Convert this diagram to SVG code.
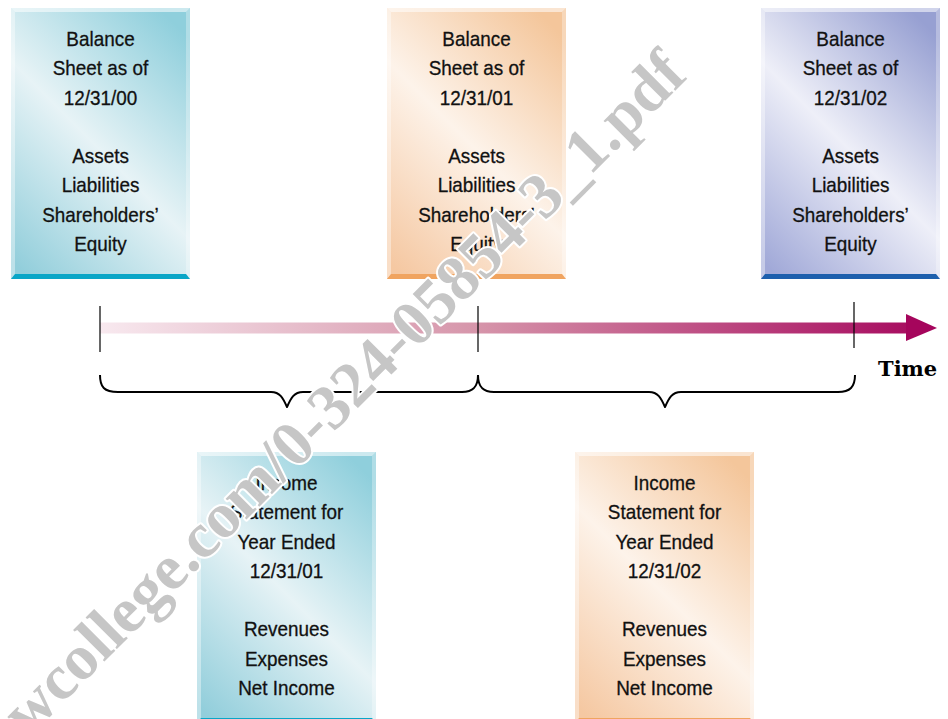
<svg xmlns="http://www.w3.org/2000/svg" width="948" height="719" viewBox="0 0 948 719">
  <defs>
    <!-- face colour ramps: dark at two opposite corners, light diagonal band -->
    <linearGradient id="rampBlue">
      <stop offset="0" stop-color="#8fcfdc"/>
      <stop offset="0.5" stop-color="#e7f3f6"/>
      <stop offset="1" stop-color="#92cedb"/>
    </linearGradient>
    <linearGradient id="rampOrange">
      <stop offset="0" stop-color="#f4c69b"/>
      <stop offset="0.5" stop-color="#fdf3ea"/>
      <stop offset="1" stop-color="#f5c8a2"/>
    </linearGradient>
    <linearGradient id="rampPurple">
      <stop offset="0" stop-color="#97a0d2"/>
      <stop offset="0.5" stop-color="#eeeff8"/>
      <stop offset="1" stop-color="#a1a9d8"/>
    </linearGradient>
    <linearGradient id="faceBs2000" href="#rampBlue" gradientUnits="userSpaceOnUse" x1="200.5" y1="50" x2="0.5" y2="250"/>
    <linearGradient id="faceBs2001" href="#rampOrange" gradientUnits="userSpaceOnUse" x1="576.5" y1="50" x2="376.5" y2="250"/>
    <linearGradient id="faceBs2002" href="#rampPurple" gradientUnits="userSpaceOnUse" x1="950.5" y1="50" x2="750.5" y2="250"/>
    <linearGradient id="faceIs2001" href="#rampBlue" gradientUnits="userSpaceOnUse" x1="386.5" y1="494" x2="186.5" y2="694"/>
    <linearGradient id="faceIs2002" href="#rampOrange" gradientUnits="userSpaceOnUse" x1="764.5" y1="494" x2="564.5" y2="694"/>
    <linearGradient id="timeShaft" gradientUnits="userSpaceOnUse" x1="100" y1="0" x2="937" y2="0">
      <stop offset="0" stop-color="#f8e9ef"/>
      <stop offset="0.45" stop-color="#d695aa"/>
      <stop offset="1" stop-color="#a5055c"/>
    </linearGradient>
    <!-- bevelled frame of a 179 x 271 panel; bottom bar takes currentColor -->
    <g id="bevel">
      <polygon points="0,0 179,0 175,4 4,4" fill="#ffffff" fill-opacity="0.55"/>
      <polygon points="0,0 4,4 4,267 0,271" fill="#ffffff" fill-opacity="0.4"/>
      <polygon points="179,0 179,271 175,267 175,4" fill="#ffffff" fill-opacity="0.3"/>
      <polygon points="0,271 179,271 175,266 4,266" fill="currentColor"/>
    </g>
  </defs>
  <style>
    .lbl { font-family: "Liberation Sans", Arial, sans-serif; font-size: 21px; fill: #111; stroke: #111; stroke-width: 0.3; text-anchor: middle; }
    .tick { stroke: #000; stroke-width: 1.2; fill: none; }
    .brace { stroke: #000; stroke-width: 2; fill: none; stroke-linejoin: round; }
    .time { font-family: "DejaVu Serif", "Liberation Serif", serif; font-weight: bold; font-size: 21px; fill: #000; }
    .mark { font-family: "Liberation Serif", "DejaVu Serif", serif; font-weight: bold; font-size: 64px; fill: #c6c6c6; stroke: #ffffff; stroke-width: 4; paint-order: stroke; stroke-linejoin: round; }
  </style>

  <rect width="948" height="719" fill="#ffffff"/>

  <!-- balance sheets -->
  <g id="bs2000">
    <rect x="11" y="8" width="179" height="271" fill="url(#faceBs2000)"/>
    <use href="#bevel" x="11" y="8" color="#0aa6c7"/>
    <g transform="translate(100.5,0) scale(0.9,1)">
      <text class="lbl"><tspan x="0" y="46">Balance</tspan><tspan x="0" y="75.3">Sheet as of</tspan><tspan x="0" y="104.6">12/31/00</tspan><tspan x="0" y="163.2">Assets</tspan><tspan x="0" y="192.5">Liabilities</tspan><tspan x="0" y="221.8">Shareholders’</tspan><tspan x="0" y="251.1">Equity</tspan></text>
    </g>
  </g>

  <g id="bs2001">
    <rect x="387" y="8" width="179" height="271" fill="url(#faceBs2001)"/>
    <use href="#bevel" x="387" y="8" color="#f0a460"/>
    <g transform="translate(476.5,0) scale(0.9,1)">
      <text class="lbl"><tspan x="0" y="46">Balance</tspan><tspan x="0" y="75.3">Sheet as of</tspan><tspan x="0" y="104.6">12/31/01</tspan><tspan x="0" y="163.2">Assets</tspan><tspan x="0" y="192.5">Liabilities</tspan><tspan x="0" y="221.8">Shareholders’</tspan><tspan x="0" y="251.1">Equity</tspan></text>
    </g>
  </g>

  <g id="bs2002">
    <rect x="761" y="8" width="179" height="271" fill="url(#faceBs2002)"/>
    <use href="#bevel" x="761" y="8" color="#1d5fad"/>
    <g transform="translate(850.5,0) scale(0.9,1)">
      <text class="lbl"><tspan x="0" y="46">Balance</tspan><tspan x="0" y="75.3">Sheet as of</tspan><tspan x="0" y="104.6">12/31/02</tspan><tspan x="0" y="163.2">Assets</tspan><tspan x="0" y="192.5">Liabilities</tspan><tspan x="0" y="221.8">Shareholders’</tspan><tspan x="0" y="251.1">Equity</tspan></text>
    </g>
  </g>

  <!-- income statements -->
  <g id="is2001">
    <rect x="197" y="452" width="179" height="271" fill="url(#faceIs2001)"/>
    <use href="#bevel" x="197" y="452" color="#0aa6c7"/>
    <g transform="translate(286.5,0) scale(0.9,1)">
      <text class="lbl"><tspan x="0" y="490">Income</tspan><tspan x="0" y="519.3">Statement for</tspan><tspan x="0" y="548.6">Year Ended</tspan><tspan x="0" y="577.9">12/31/01</tspan><tspan x="0" y="636.5">Revenues</tspan><tspan x="0" y="665.8">Expenses</tspan><tspan x="0" y="695.1">Net Income</tspan></text>
    </g>
  </g>

  <g id="is2002">
    <rect x="575" y="452" width="179" height="271" fill="url(#faceIs2002)"/>
    <use href="#bevel" x="575" y="452" color="#f0a460"/>
    <g transform="translate(664.5,0) scale(0.9,1)">
      <text class="lbl"><tspan x="0" y="490">Income</tspan><tspan x="0" y="519.3">Statement for</tspan><tspan x="0" y="548.6">Year Ended</tspan><tspan x="0" y="577.9">12/31/02</tspan><tspan x="0" y="636.5">Revenues</tspan><tspan x="0" y="665.8">Expenses</tspan><tspan x="0" y="695.1">Net Income</tspan></text>
    </g>
  </g>

  <!-- time axis, ticks and period braces -->
  <g id="connectors">
    <rect x="100" y="322.5" width="808" height="11" fill="url(#timeShaft)"/>
    <polygon points="906,314 937,328 906,341" fill="#a5055c"/>
    <line class="tick" x1="100" y1="306" x2="100" y2="352"/>
    <line class="tick" x1="478" y1="306" x2="478" y2="352"/>
    <line class="tick" x1="854" y1="302" x2="854" y2="348"/>
    <path class="brace" d="M100,375 C100,387 104,392 118,392 L271,392 C280,392 283,398 287,407 C291,398 294,392 303,392 L462,392 C473,392 478,387 478,375"/>
    <path class="brace" d="M478,375 C478,387 483,392 494,392 L649,392 C658,392 661,398 665,407 C669,398 672,392 681,392 L838,392 C850,392 855,387 855,375"/>
    <text class="time" x="878" y="376">Time</text>
  </g>

  <!-- diagonal overprint -->
  <text class="mark" transform="translate(28,738) rotate(-45)">wcollege.com/0-324-05854-3_1.pdf</text>
</svg>
